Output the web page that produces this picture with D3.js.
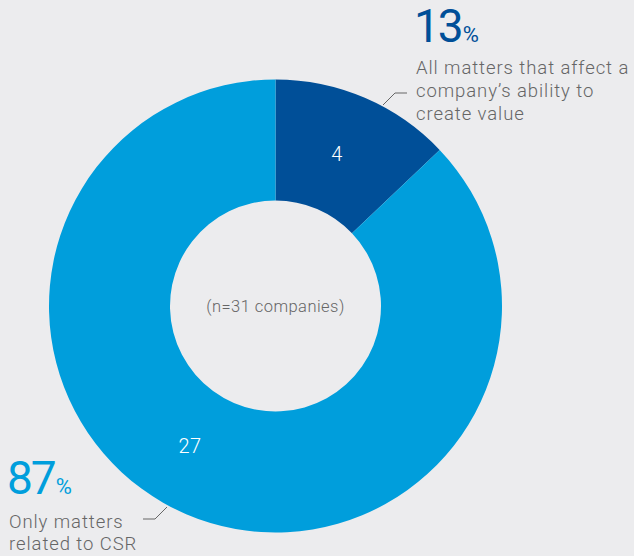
<!DOCTYPE html>
<html>
<head>
<meta charset="utf-8">
<script src="https://cdn.jsdelivr.net/npm/d3@7"></script>
<style>
  html, body { margin: 0; padding: 0; background: #ececee; }
  svg { display: block; }
  text { font-family: Roboto, "Liberation Sans", sans-serif; font-weight: 300; }
</style>
</head>
<body>
<svg id="chart" width="634" height="556"></svg>
<script>
// Scope of material matters reported (n=31 companies)
const categories = ["All matters that affect a company's ability to create value", "Only matters related to CSR"];
const counts = [4, 27];
const percents = ["13", "87"];
const colors = ["#004f98", "#009edc"];
const centerNote = "(n=31 companies)";

const width = 634, height = 556;
const cx = 275.5, cy = 306;
const outerR = 226.5, innerR = 105.5;
const labelR = 164;
const labelFrac = [0.474, 0.526]; // where along each slice its count sits

const svg = d3.select("#chart");
svg.append("rect").attr("width", width).attr("height", height).attr("fill", "#ececee");

const pie = d3.pie().sort(null).value(d => d);
const arcs = pie(counts);
const arc = d3.arc().innerRadius(innerR).outerRadius(outerR);
const color = d3.scaleOrdinal().domain(d3.range(counts.length)).range(colors);

const g = svg.append("g").attr("transform", `translate(${cx},${cy})`);
g.selectAll("path.slice")
  .data(arcs)
  .join("path")
  .attr("class", "slice")
  .attr("d", arc)
  .attr("fill", (d, i) => color(i));

// Count labels inside each slice
g.selectAll("text.count")
  .data(arcs)
  .join("text")
  .attr("class", "count")
  .attr("transform", (d, i) => {
    const a = d.startAngle + (d.endAngle - d.startAngle) * labelFrac[i];
    return `translate(${labelR * Math.sin(a)},${-labelR * Math.cos(a)})`;
  })
  .attr("text-anchor", "middle")
  .attr("dy", "0.36em")
  .attr("fill", "#ffffff")
  .attr("font-size", 20)
  .attr("letter-spacing", 0.5)
  .text(d => d.data);

g.append("text")
  .attr("text-anchor", "middle")
  .attr("dy", "0.36em")
  .attr("fill", "#666666")
  .attr("font-size", 16.5)
  .attr("letter-spacing", 0.45)
  .text(centerNote);

// Callouts
const callouts = [
  { x: 414, y: 42, lines: ["All matters that affect a", "company\u2019s ability to", "create value"],
    textY: 74, leader: [[383, 105], [395, 93], [407, 93]] },
  { x: 7, y: 494, lines: ["Only matters", "related to CSR"],
    textY: 527.5, leader: [[167, 507], [155, 519], [143, 519]] }
];

callouts.forEach((c, i) => {
  const big = svg.append("text")
    .attr("x", c.x).attr("y", c.y)
    .attr("fill", colors[i]);
  big.append("tspan").attr("font-size", 46).attr("font-weight", 400).attr("letter-spacing", -2).text(percents[i]);
  big.append("tspan").attr("font-size", 22).attr("font-weight", 400).attr("dx", 1).text("%");

  svg.append("text")
    .attr("y", c.textY)
    .attr("fill", "#666666")
    .attr("font-size", 18.5)
    .attr("letter-spacing", 0.92)
    .selectAll("tspan")
    .data(c.lines)
    .join("tspan")
    .attr("x", c.x + 2)
    .attr("dy", (d, j) => j === 0 ? 0 : 22.8)
    .text(d => d);

  svg.append("path")
    .attr("d", d3.line()(c.leader))
    .attr("fill", "none")
    .attr("stroke", "#666666")
    .attr("stroke-width", 1);
});
</script>
</body>
</html>
